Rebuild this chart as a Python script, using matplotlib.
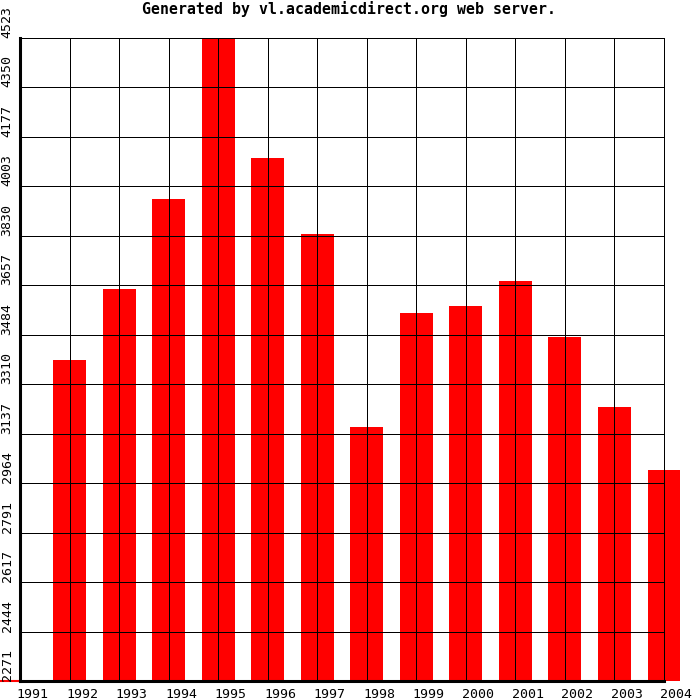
import matplotlib.pyplot as plt
import matplotlib.transforms as mtransforms

# values
years = [1992, 1993, 1994, 1995, 1996, 1997, 1998, 1999, 2000, 2001, 2002, 2003, 2004]
values = [3395, 3644, 3959, 4523, 4103, 3837, 3161, 3560, 3584, 3672, 3476, 3231, 3010]

grid_years = list(range(1991, 2005))
y_ticks = [2271, 2444, 2617, 2791, 2964, 3137, 3310, 3484, 3657, 3830, 4003, 4177, 4350, 4523]

title = "Generated by vl.academicdirect.org web server."

fig = plt.figure(figsize=(7, 7), dpi=100)
ax = fig.add_axes([20 / 700, 19 / 700, 644 / 700, 643 / 700])

ax.bar(years, [v - y_ticks[0] for v in values], width=0.666, bottom=y_ticks[0],
       color='#ff0000', clip_on=False, zorder=1, antialiased=False)

ax.set_xlim(grid_years[0], grid_years[-1])
ax.set_ylim(y_ticks[0], y_ticks[-1])

ax.set_xticks(grid_years)
ax.set_yticks(y_ticks)
ax.set_xticklabels([])
ax.set_yticklabels([])
ax.tick_params(length=0)
ax.set_axisbelow(False)
ax.grid(True, color='black', linewidth=0.72, antialiased=False)

for side in ['top', 'right']:
    ax.spines[side].set_linewidth(0.72)
    ax.spines[side].set_antialiased(False)
for side in ['left', 'bottom']:
    ax.spines[side].set_linewidth(2.2)
    ax.spines[side].set_zorder(3)

mono = 'DejaVu Sans Mono'

# year labels, a bit right of each gridline
tx = mtransforms.blended_transform_factory(ax.transData, ax.transAxes)
for yr in grid_years:
    ax.text(yr + 0.25, -13 / 643, str(yr), transform=tx, ha='center', va='center',
            fontsize=9.5, family=mono)

# value labels, rotated, sitting above each gridline
ty = mtransforms.blended_transform_factory(ax.transAxes, ax.transData)
for v in y_ticks:
    ax.text(-13 / 644, v, str(v), transform=ty, rotation=90, ha='center', va='bottom',
            fontsize=9.5, family=mono)

# small red mark at the bottom left corner
ax.plot([-20 / 644, -2 / 644], [0, 0], color='#ff0000', linewidth=1.5,
        transform=ax.transAxes, clip_on=False)

fig.text(349 / 700, 1 - 9 / 700, title, ha='center', va='center',
         fontsize=10.7, fontweight='bold', family=mono)

fig.savefig('out.png', dpi=100, facecolor='white')
